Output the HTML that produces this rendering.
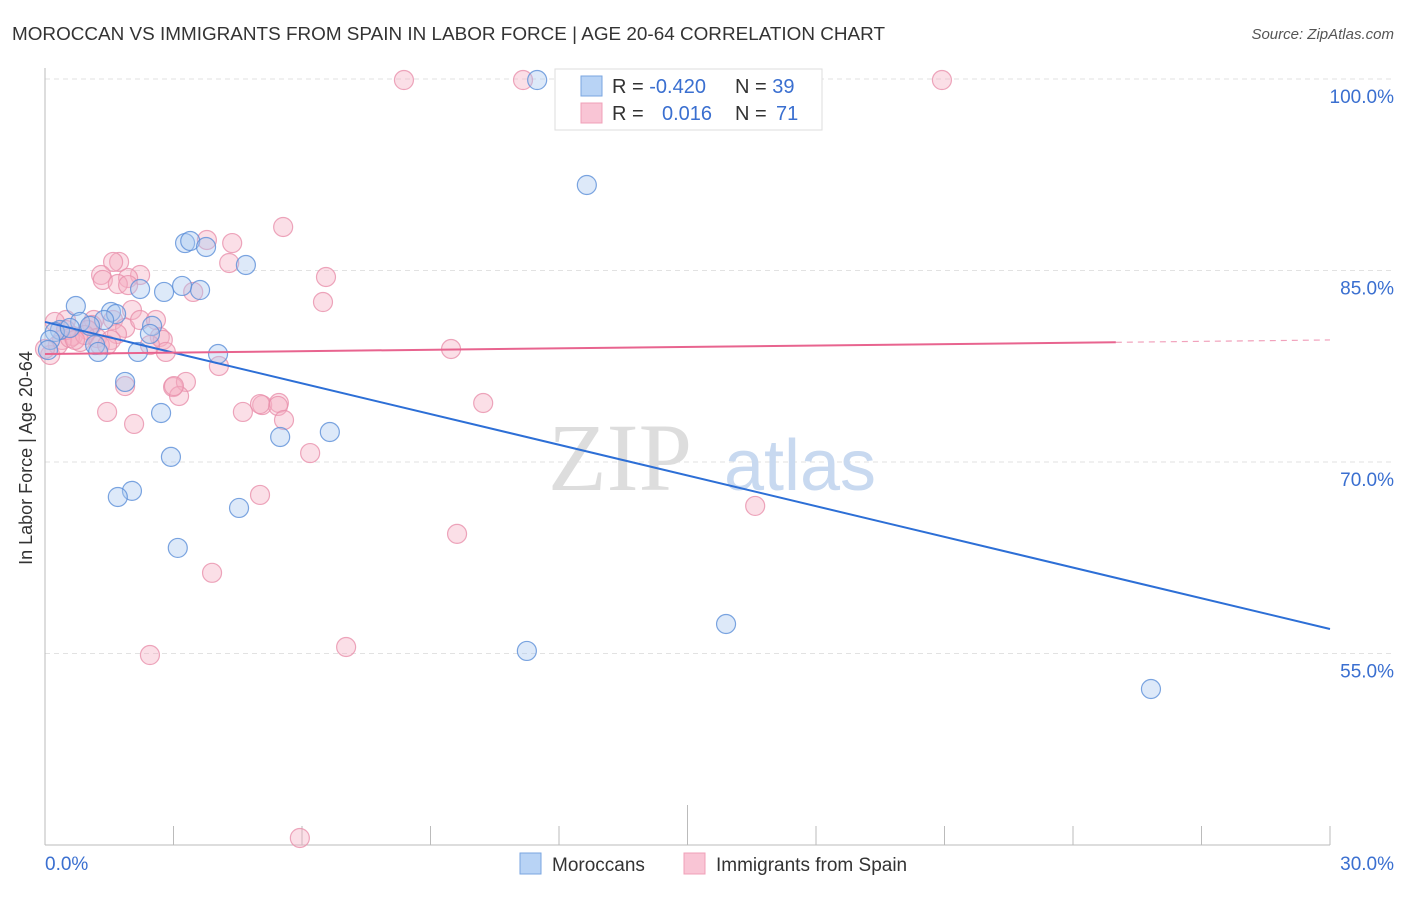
<!DOCTYPE html>
<html><head><meta charset="utf-8"><style>
body{margin:0;background:#fff;font-family:"Liberation Sans",sans-serif;}
</style></head><body>
<svg width="1406" height="892" xmlns="http://www.w3.org/2000/svg" style="font-family:'Liberation Sans',sans-serif">
<text x="12" y="40" font-size="18" fill="#333" textLength="873" lengthAdjust="spacingAndGlyphs">MOROCCAN VS IMMIGRANTS FROM SPAIN IN LABOR FORCE | AGE 20-64 CORRELATION CHART</text>
<text x="1394" y="39" font-size="15" fill="#555" font-style="italic" text-anchor="end">Source: ZipAtlas.com</text>
<g id="grid"></g>
<text x="620" y="490" font-size="96" fill="#ddd" font-family="Liberation Serif,serif" text-anchor="middle">ZIP</text>
<text x="800" y="490" font-size="72" fill="#c8d9f0" text-anchor="middle">atlas</text>
<line x1="45" y1="68" x2="45" y2="845" stroke="#bbb"/>
<line x1="45" y1="845" x2="1330" y2="845" stroke="#bbb"/>
<g id="ticks"></g>
<g id="pink"></g>
<g id="blue"></g>
<g id="trends"></g>
<text x="32" y="458" font-size="18" fill="#333" text-anchor="middle" transform="rotate(-90 32 458)">In Labor Force | Age 20-64</text>
<text x="45" y="870" font-size="19" fill="#3a6fd0">0.0%</text>
<text x="1394" y="870" font-size="19" fill="#3a6fd0" text-anchor="end">30.0%</text>
<g id="ylabels"></g>
<g>
<rect x="555" y="69" width="267" height="61" fill="#fff" stroke="#ddd"/>
<rect x="581" y="76" width="21" height="20" fill="#b8d3f5" stroke="#7aa6e0"/>
<rect x="581" y="103" width="21" height="20" fill="#f9c5d5" stroke="#f0a0b8"/>
<text x="612" y="93" font-size="20" fill="#333">R = <tspan fill="#3a6fd0">-0.420</tspan></text>
<text x="735" y="93" font-size="20" fill="#333">N = <tspan fill="#3a6fd0">39</tspan></text>
<text x="612" y="120" font-size="20" fill="#333">R = <tspan fill="#3a6fd0" x="662">0.016</tspan></text>
<text x="735" y="120" font-size="20" fill="#333">N = <tspan fill="#3a6fd0" x="776">71</tspan></text>
</g>
<g>
<rect x="520" y="853" width="21" height="21" fill="#b8d3f5" stroke="#7aa6e0"/>
<text x="552" y="871" font-size="19" fill="#333">Moroccans</text>
<rect x="684" y="853" width="21" height="21" fill="#f9c5d5" stroke="#f0a0b8"/>
<text x="716" y="871" font-size="19" fill="#333">Immigrants from Spain</text>
</g>
</svg>
<script>
const yTicks=[100,85,70,55];
const blueX=[11.49,12.65,3.27,3.39,3.76,4.69,3.62,3.20,2.78,2.22,0.72,1.54,1.66,1.38,0.82,2.50,2.45,0.35,0.23,0.12,0.07,1.17,1.24,2.17,4.04,1.87,2.71,5.49,6.65,2.94,2.03,1.70,4.53,3.10,11.25,15.90,25.82,0.58,1.05];
const blueY=[99.92,91.70,87.15,87.31,86.84,85.43,83.47,83.79,83.32,83.55,82.22,81.75,81.59,81.12,80.97,80.66,80.03,80.34,80.18,79.56,78.77,79.16,78.62,78.62,78.46,76.27,73.84,71.96,72.35,70.40,67.74,67.26,66.40,63.27,55.20,57.31,52.22,80.50,80.66];
const pinkX=[8.38,11.16,20.94,5.56,3.78,4.37,4.30,1.73,1.59,1.31,1.35,2.22,1.94,1.70,6.56,6.49,3.46,2.03,0.49,0.23,1.14,1.59,1.10,1.00,1.87,1.68,0.65,0.40,0.82,1.21,2.68,2.75,2.82,1.54,9.48,4.06,1.87,2.99,3.29,3.13,1.45,2.08,4.62,5.07,5.46,5.44,5.58,10.23,6.19,5.02,16.58,9.62,3.90,2.45,7.03,5.95,0.12,0.30,0.58,0.93,1.28,0.00,2.22,2.59,5.02,3.01,1.94,1.45,2.45,0.49,0.70];
const pinkY=[99.92,99.92,99.92,88.41,87.39,87.15,85.59,85.67,85.67,84.65,84.26,84.65,84.41,83.94,84.49,82.53,83.32,81.91,81.12,80.97,81.12,81.12,80.73,80.34,80.50,80.03,79.87,79.56,79.40,79.71,79.79,79.56,78.62,79.56,78.85,77.52,75.95,75.87,76.27,75.17,73.92,72.98,73.92,74.46,74.62,74.39,73.29,74.62,70.70,67.42,66.56,64.37,61.32,54.88,55.51,40.55,78.38,79.16,79.71,79.95,79.16,78.85,81.12,81.12,74.54,75.95,83.86,79.16,79.16,80.34,79.56];
const blueTrend=[80.97,56.92];
const pinkTrend=[78.46,79.56];
const NS='http://www.w3.org/2000/svg';
const sx=v=>45+v/30*1285;
const sy=v=>79+(100-v)/15*191.5;
function mk(t,a,p){const e=document.createElementNS(NS,t);for(const k in a)e.setAttribute(k,a[k]);p.appendChild(e);return e;}
const grid=document.getElementById('grid'),yl=document.getElementById('ylabels');
yTicks.forEach(v=>{const l=mk('line',{x1:45,x2:1394,y1:sy(v),y2:sy(v),stroke:'#e2e2e2','stroke-dasharray':'5,4'},grid);


const t=mk('text',{x:1394,y:sy(v)+24,'font-size':19,fill:'#3a6fd0','text-anchor':'end'},yl);t.textContent=v.toFixed(1)+'%';

});
const tk=document.getElementById('ticks');
for(let i=1;i<=10;i++){const x=sx(i*3);const l=mk('line',{x1:x,x2:x,y1:i==5?805:826,y2:845,stroke:'#bbb'},tk);

}
function pts(X,Y,g,fill,stroke,name){X.forEach((x,i)=>{const c=mk('circle',{cx:sx(x),cy:sy(Y[i]),r:9.5,fill:fill,'fill-opacity':0.4,stroke:stroke,'stroke-opacity':0.8,'stroke-width':1.2},g);

});}
pts(pinkX,pinkY,document.getElementById('pink'),'#f4b0c4','#e890ab','spain-point');
pts(blueX,blueY,document.getElementById('blue'),'#a9c8f0','#5b8fd8','moroccan-point');
const tr=document.getElementById('trends');
let l=mk('line',{x1:sx(0),y1:sy(blueTrend[0]),x2:sx(30),y2:sy(blueTrend[1]),stroke:'#2d6fd6','stroke-width':2},tr);


const pm=pinkTrend[0]+(pinkTrend[1]-pinkTrend[0])*25/30;
l=mk('line',{x1:sx(0),y1:sy(pinkTrend[0]),x2:sx(25),y2:sy(pm),stroke:'#e8648f','stroke-width':2},tr);


l=mk('line',{x1:sx(25),y1:sy(pm),x2:sx(30),y2:sy(pinkTrend[1]),stroke:'#e8648f','stroke-width':1.2,'stroke-dasharray':'6,5','stroke-opacity':0.6},tr);


</script>
</body></html>
